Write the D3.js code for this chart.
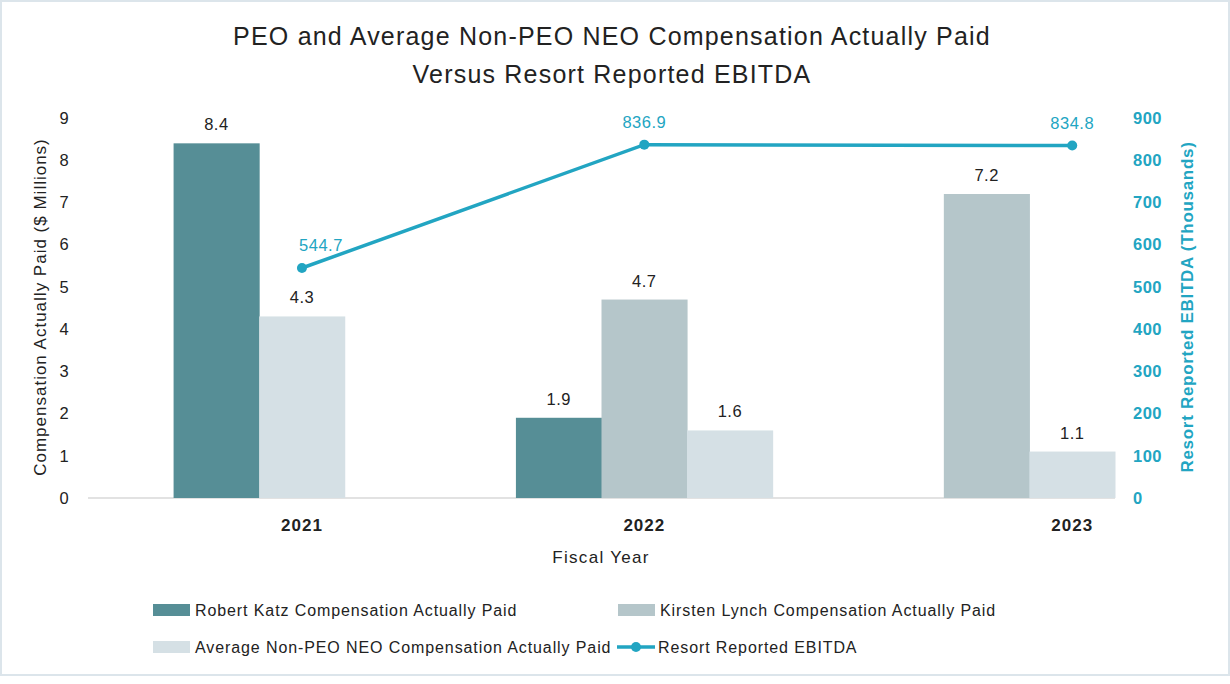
<!DOCTYPE html>
<html>
<head>
<meta charset="utf-8">
<script src="https://cdn.jsdelivr.net/npm/d3@7"></script>
<style>
  html, body { margin: 0; padding: 0; background: #fff; }
  svg { display: block; font-family: "Liberation Sans", Arial, sans-serif; }
</style>
</head>
<body>
<div id="chart"></div>
<script>
// data
const years = ["2021", "2022", "2023"]
const katzPaid = [8.4, 1.9, null]
const lynchPaid = [null, 4.7, 7.2]
const avgNeoPaid = [4.3, 1.6, 1.1]
const ebitda = [544.7, 836.9, 834.8]
const leftTicks = [0, 1, 2, 3, 4, 5, 6, 7, 8, 9]
const rightTicks = [0, 100, 200, 300, 400, 500, 600, 700, 800, 900]

const series = [
  { name: "Robert Katz Compensation Actually Paid", values: katzPaid, color: "#568e96" },
  { name: "Kirsten Lynch Compensation Actually Paid", values: lynchPaid, color: "#b5c6ca" },
  { name: "Average Non-PEO NEO Compensation Actually Paid", values: avgNeoPaid, color: "#d5e0e5" }
]

// layout: the x axis is cut into 12 equal slots, bars of one year sit side by side
const firstSlot = { "2021": 1, "2022": 5, "2023": 10 }
const labelSlot = { "2021": 2, "2022": 6, "2023": 11 }

const W = 1230, H = 684
const x0 = 88, x1 = 1115, yTop = 118, yBase = 498
const lineColor = "#22a5c2"

const svg = d3.select("#chart").append("svg")
  .attr("width", W).attr("height", H)

svg.append("rect")
  .attr("x", 1).attr("y", 1).attr("width", W - 2).attr("height", H - 10)
  .attr("fill", "#fff").attr("stroke", "#dce5eb").attr("stroke-width", 2)

const slot = d3.scaleBand(d3.range(12), [x0, x1])
const yLeft = d3.scaleLinear([0, 9], [yBase, yTop])
const yRight = d3.scaleLinear([0, 900], [yBase, yTop])

// title
svg.append("text").attr("x", 612).attr("y", 45).attr("text-anchor", "middle")
   .style("font-size", "25px").style("fill", "#222").style("letter-spacing", "1.2px")
   .text("PEO and Average Non-PEO NEO Compensation Actually Paid")
svg.append("text").attr("x", 612).attr("y", 83).attr("text-anchor", "middle")
   .style("font-size", "25px").style("fill", "#222").style("letter-spacing", "1.2px")
   .text("Versus Resort Reported EBITDA")

// baseline
svg.append("line").attr("x1", x0).attr("x2", x1).attr("y1", yBase).attr("y2", yBase)
   .attr("stroke", "#d9d9d9").attr("stroke-width", 1.5)

// left axis
let leftAxis = svg.append("g")
   .attr("transform", `translate(${x0 - 18}, 0)`)
   .call(d3.axisLeft(yLeft).tickValues(leftTicks).tickSize(0).tickPadding(0))
leftAxis.select(".domain").remove()
leftAxis.selectAll("text").style("font-size", "16.5px").style("fill", "#222")
   .attr("text-anchor", "middle").attr("dx", -6)

// right axis
let rightAxis = svg.append("g")
   .attr("transform", `translate(${x1 + 18}, 0)`)
   .call(d3.axisRight(yRight).tickValues(rightTicks).tickSize(0).tickPadding(0))
rightAxis.select(".domain").remove()
rightAxis.selectAll("text").style("font-size", "16.5px").style("fill", lineColor)
   .style("font-weight", "bold").style("letter-spacing", "0.5px")

// axis titles
svg.append("text").attr("transform", `translate(46, ${(yBase + 116) / 2}) rotate(-90)`)
   .attr("text-anchor", "middle").style("font-size", "17px").style("fill", "#222")
   .style("letter-spacing", "1px")
   .text("Compensation Actually Paid ($ Millions)")
svg.append("text").attr("transform", `translate(1193, ${(yBase + 116) / 2}) rotate(-90)`)
   .attr("text-anchor", "middle").style("font-size", "17px").style("fill", lineColor)
   .style("font-weight", "bold").style("letter-spacing", "0.7px")
   .text("Resort Reported EBITDA (Thousands)")

// bars
years.forEach((yr, i) => {
  let s = firstSlot[yr]
  series.forEach(ser => {
    const v = ser.values[i]
    if (v == null) return
    svg.append("rect")
       .attr("x", slot(s)).attr("width", slot.bandwidth() + 0.5)
       .attr("y", yLeft(v)).attr("height", yBase - yLeft(v))
       .attr("fill", ser.color)
    svg.append("text")
       .attr("x", slot(s) + slot.bandwidth() / 2).attr("y", yLeft(v) - 13)
       .attr("text-anchor", "middle").style("font-size", "16.5px").style("fill", "#222")
       .style("letter-spacing", "0.5px")
       .text(v.toFixed(1))
    s++
  })
})

// x labels
const labelX = yr => slot(labelSlot[yr]) + slot.bandwidth() / 2
svg.selectAll("text.year").data(years).enter().append("text")
   .attr("class", "year")
   .attr("x", d => labelX(d)).attr("y", 531)
   .attr("text-anchor", "middle").style("font-size", "17px").style("font-weight", "bold")
   .style("letter-spacing", "1px")
   .style("fill", "#222").text(d => d)
svg.append("text").attr("x", 601).attr("y", 563).attr("text-anchor", "middle")
   .style("font-size", "17px").style("fill", "#222").style("letter-spacing", "1.3px")
   .text("Fiscal Year")

// line
const pts = years.map((yr, i) => ({ yr: yr, v: ebitda[i] }))
const dMaker = d3.line().x(d => labelX(d.yr)).y(d => yRight(d.v))
svg.append("path").datum(pts)
   .attr("d", dMaker).attr("fill", "none")
   .attr("stroke", lineColor).attr("stroke-width", 3.5)
svg.selectAll("circle.pt").data(pts).enter().append("circle")
   .attr("class", "pt")
   .attr("cx", d => labelX(d.yr)).attr("cy", d => yRight(d.v)).attr("r", 5)
   .attr("fill", lineColor)
svg.selectAll("text.ptlab").data(pts).enter().append("text")
   .attr("class", "ptlab")
   .attr("x", (d, i) => labelX(d.yr) + (i === 0 ? 19 : 0))
   .attr("y", d => yRight(d.v) - 17)
   .attr("text-anchor", "middle").style("font-size", "16.5px").style("fill", lineColor)
   .style("letter-spacing", "0.5px")
   .text(d => d.v.toFixed(1))

// legend
const legendItems = [
  { name: series[0].name, color: series[0].color, x: 153, y: 610 },
  { name: series[1].name, color: series[1].color, x: 618, y: 610 },
  { name: series[2].name, color: series[2].color, x: 153, y: 647 }
]
legendItems.forEach(it => {
  svg.append("rect").attr("x", it.x).attr("y", it.y - 6).attr("width", 37).attr("height", 12)
     .attr("fill", it.color)
  svg.append("text").attr("x", it.x + 42).attr("y", it.y + 6)
     .style("font-size", "16px").style("fill", "#222").style("letter-spacing", "0.9px")
     .text(it.name)
})
svg.append("line").attr("x1", 617).attr("x2", 655).attr("y1", 647).attr("y2", 647)
   .attr("stroke", lineColor).attr("stroke-width", 3.5)
svg.append("circle").attr("cx", 636).attr("cy", 647).attr("r", 5).attr("fill", lineColor)
svg.append("text").attr("x", 658).attr("y", 653)
   .style("font-size", "16px").style("fill", "#222").style("letter-spacing", "0.9px")
   .text("Resort Reported EBITDA")
</script>
</body>
</html>
